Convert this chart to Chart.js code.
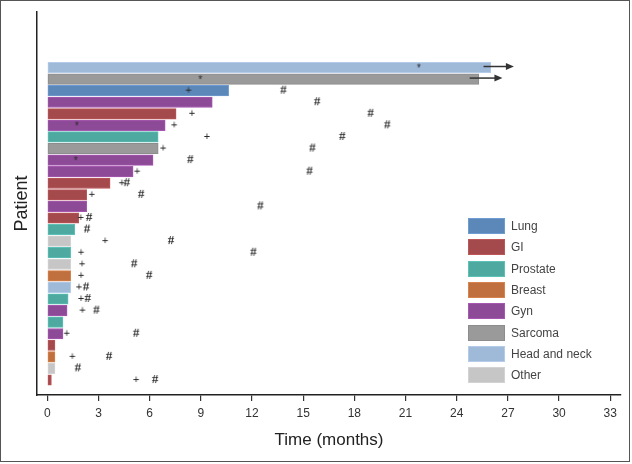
<!DOCTYPE html>
<html>
<head>
<meta charset="utf-8">
<script src="https://cdn.jsdelivr.net/npm/chart.js@4"></script>
<style>
    html, body { margin: 0; padding: 0; background: #fff; }
    #wrap { position: relative; width: 632px; height: 464px; }
    #frame { position: absolute; left: 0; top: 0; width: 630px; height: 462px; border: 1px solid #555; box-sizing: border-box; pointer-events: none; }
    #legend { position: absolute; left: 468px; top: 218px; font-family: 'Liberation Sans', Arial, sans-serif; font-size: 12px; color: #444; }
    .item { height: 21.33px; position: relative; }
    .sw { position: absolute; left: 0; top: 0; width: 37px; height: 16px; box-sizing: border-box; border: 1px solid; }
    .lbl { position: absolute; left: 43px; top: 1px; white-space: nowrap; }
</style>
</head>
<body>
<div id="wrap">
    <canvas id="chartSwimmer" width="632" height="464"></canvas>
    <div id="legend"></div>
    <div id="frame"></div>
</div>
<script>
// ============ DATA ============
const CANCER_TYPES = ['Lung', 'GI', 'Prostate', 'Breast', 'Gyn', 'Sarcoma', 'Head and neck', 'Other'];
const TYPE_FILL = ['#5b87b9', '#a54a4c', '#4ea9a1', '#c0703f', '#8d4a97', '#9a9a9a', '#9fb9d9', '#c6c6c6'];
const TYPE_EDGE = ['#6d9bd2', '#bb5659', '#5dc1b7', '#d6834d', '#a658b1', '#8c8c8c', '#b4cce9', '#d3d3d3'];

// one entry per patient, top row first
const PATIENT_TYPE = [
    'Head and neck', 'Sarcoma', 'Lung', 'Gyn', 'GI', 'Gyn', 'Prostate', 'Sarcoma', 'Gyn', 'Gyn',
    'GI', 'GI', 'Gyn', 'GI', 'Prostate', 'Other', 'Prostate', 'Other', 'Breast', 'Head and neck',
    'Prostate', 'Gyn', 'Prostate', 'Gyn', 'GI', 'Breast', 'Other', 'GI'
];
const MONTHS_ON_STUDY = [
    26.0, 25.3, 10.63, 9.67, 7.55, 6.91, 6.5, 6.5, 6.2, 5.03,
    3.68, 2.31, 2.31, 1.84, 1.61, 1.37, 1.37, 1.37, 1.37, 1.37,
    1.22, 1.16, 0.92, 0.92, 0.45, 0.45, 0.45, 0.24
];
const STAR_AT = [
    21.78, 8.97, null, null, null, 1.73, null, null, 1.67, null,
    null, null, null, null, null, null, null, null, null, null,
    null, null, null, null, null, null, null, null
];
const PLUS_AT = [
    null, null, 8.28, null, 8.48, 7.44, 9.36, 6.79, null, 5.27,
    4.37, 2.61, null, 1.96, null, 3.39, 1.98, 2.04, 1.98, 1.86,
    1.98, 2.06, null, 1.14, null, 1.47, null, 5.21
];
const HASH_AT = [
    null, null, 13.84, 15.82, 18.95, 19.93, 17.29, 15.54, 8.38, 15.37,
    4.66, 5.50, 12.49, 2.45, 2.33, 7.25, 12.08, 5.09, 5.97, 2.27,
    2.37, 2.88, null, 5.21, null, 3.62, 1.79, 6.32
];
const ONGOING_FROM = [25.57, 24.76];
const ONGOING_TO = [27.35, 26.68];
const X_TICKS = [0, 3, 6, 9, 12, 15, 18, 21, 24, 27, 30, 33];

// ============ HELPERS ============
const SANS = '"Liberation Sans", Arial, sans-serif';
const rowY = i => PATIENT_TYPE.length - i;
const typeIdx = t => CANCER_TYPES.indexOf(t);

function markerPoints(arr) {
    const pts = [];
    arr.forEach((v, i) => { if (v != null) pts.push({ x: v, y: rowY(i) }); });
    return pts;
}

function glyph(ch, font, dy) {
    const c = document.createElement('canvas');
    c.width = 16; c.height = 16;
    const g = c.getContext('2d');
    g.fillStyle = '#2a2a2a';
    g.font = font;
    g.textAlign = 'center';
    g.textBaseline = 'middle';
    g.fillText(ch, 8, 8 + dy);
    return c;
}

function buildLegend() {
    const box = document.getElementById('legend');
    CANCER_TYPES.forEach((t, i) => {
        const it = document.createElement('div');
        it.className = 'item';
        it.innerHTML = `<div class="sw" style="background:${TYPE_FILL[i]};border-color:${TYPE_EDGE[i]}"></div><span class="lbl">${t}</span>`;
        box.appendChild(it);
    });
}

// arrows for patients still on study
const ongoingArrows = {
    id: 'ongoingArrows',
    afterDatasetsDraw(chart) {
        const { ctx, scales: { x, y } } = chart;
        ctx.save();
        ctx.strokeStyle = '#333';
        ctx.fillStyle = '#333';
        ctx.lineWidth = 1.5;
        ONGOING_FROM.forEach((from, i) => {
            const x0 = x.getPixelForValue(from);
            const x1 = x.getPixelForValue(ONGOING_TO[i]);
            const py = y.getPixelForValue(rowY(i)) - 1;
            ctx.beginPath();
            ctx.moveTo(x0, py);
            ctx.lineTo(x1 - 6, py);
            ctx.stroke();
            ctx.beginPath();
            ctx.moveTo(x1, py);
            ctx.lineTo(x1 - 8, py - 3.5);
            ctx.lineTo(x1 - 8, py + 3.5);
            ctx.closePath();
            ctx.fill();
        });
        ctx.restore();
    }
};

// ============ CHART ============
buildLegend();

const starImg = glyph('*', '10px "Liberation Sans"', 1);
const plusImg = glyph('+', '11px "Liberation Sans"', 0);
const hashImg = glyph('#', 'bold 13px "Liberation Serif"', 0);

new Chart(document.getElementById('chartSwimmer'), {
    type: 'bar',
    data: {
        datasets: [
            {
                type: 'scatter',
                data: markerPoints(STAR_AT),
                pointStyle: starImg,
                pointRadius: 8,
                order: 0
            },
            {
                type: 'scatter',
                data: markerPoints(PLUS_AT),
                pointStyle: plusImg,
                pointRadius: 8,
                order: 0
            },
            {
                type: 'scatter',
                data: markerPoints(HASH_AT),
                pointStyle: hashImg,
                pointRadius: 8,
                order: 0
            },
            {
                type: 'bar',
                data: MONTHS_ON_STUDY.map((m, i) => ({ x: m, y: rowY(i) })),
                backgroundColor: PATIENT_TYPE.map(t => TYPE_FILL[typeIdx(t)]),
                borderColor: PATIENT_TYPE.map(t => TYPE_EDGE[typeIdx(t)]),
                borderWidth: 1,
                borderSkipped: false,
                barThickness: 10.5,
                order: 1
            }
        ]
    },
    options: {
        indexAxis: 'y',
        animation: false,
        responsive: false,
        events: [],
        layout: { padding: { left: 0, right: 11, top: 12, bottom: 0 } },
        plugins: { legend: { display: false }, tooltip: { enabled: false } },
        scales: {
            x: {
                type: 'linear',
                min: -0.604,
                max: 33.63,
                afterFit: s => { s.height = 69; },
                afterBuildTicks: s => { s.ticks = X_TICKS.map(v => ({ value: v })); },
                grid: { display: true, drawOnChartArea: false, drawTicks: true, tickLength: 6, color: '#333', lineWidth: 1.2 },
                border: { display: true, color: '#222', width: 1.5 },
                ticks: { color: '#333', padding: 5, font: { family: SANS, size: 12 } },
                title: {
                    display: true,
                    text: 'Time (months)',
                    color: '#222',
                    font: { family: SANS, size: 17 },
                    padding: { top: 0, bottom: 13 }
                }
            },
            y: {
                type: 'linear',
                min: -0.295,
                max: 32.795,
                offset: false,
                afterFit: s => { s.width = 37; },
                grid: { display: true, offset: false, drawOnChartArea: false, drawTicks: false },
                border: { display: true, color: '#222', width: 1.5 },
                ticks: { display: false },
                title: {
                    display: true,
                    text: 'Patient',
                    color: '#222',
                    font: { family: SANS, size: 18 },
                    padding: { top: 11, bottom: 0 }
                }
            }
        }
    },
    plugins: [ongoingArrows]
});
</script>
</body>
</html>
